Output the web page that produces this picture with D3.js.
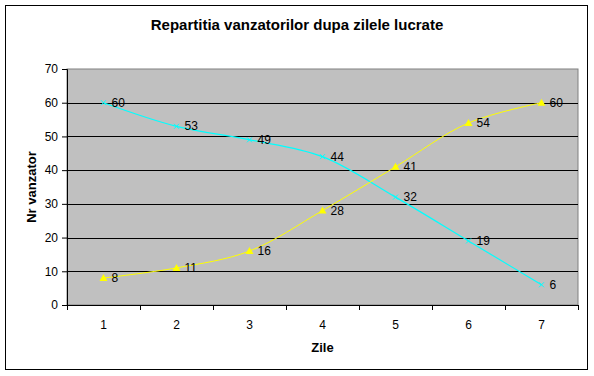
<!DOCTYPE html>
<html>
<head>
<meta charset="utf-8">
<script src="https://cdn.jsdelivr.net/npm/d3@7"></script>
<style>
  body { margin: 0; background: #fff; }
  svg { font-family: Arial, "Liberation Sans", sans-serif; }
</style>
</head>
<body>
<svg id="chart" width="594" height="376"></svg>
<script>
// data
var days = ["1", "2", "3", "4", "5", "6", "7"];
var seriesCyan = [60, 53, 49, 44, 32, 19, 6];
var seriesYellow = [8, 11, 16, 28, 41, 54, 60];
var yTicks = [0, 10, 20, 30, 40, 50, 60, 70];

var svg = d3.select("#chart"),
    margin = {top: 69, right: 16, bottom: 71, left: 67},
    width = 594 - margin.left - margin.right,
    height = 376 - margin.top - margin.bottom;

// outer frame
svg.append("rect")
    .attr("x", 5.5).attr("y", 5.5)
    .attr("width", 582).attr("height", 364)
    .attr("fill", "#fff").attr("stroke", "#000").attr("stroke-width", 1);

svg.append("text")
    .attr("x", 297).attr("y", 30)
    .attr("text-anchor", "middle")
    .attr("font-size", "15px").attr("font-weight", "bold")
    .text("Repartitia vanzatorilor dupa zilele lucrate");

var xScale = d3.scaleBand().domain(days).range([0, width]),
    yScale = d3.scaleLinear().domain([0, 70]).range([height, 0]),
    g = svg.append("g").attr("transform", `translate(${margin.left},${margin.top})`);

// plot area
g.append("rect")
    .attr("width", width).attr("height", height)
    .attr("fill", "#c0c0c0").attr("stroke", "#808080");

// gridlines
g.selectAll(".grid")
    .data(yTicks.filter(d => d > 0 && d < 70))
    .enter().append("line")
    .attr("x1", 0).attr("x2", width)
    .attr("y1", d => Math.round(yScale(d)) + 0.5)
    .attr("y2", d => Math.round(yScale(d)) + 0.5)
    .attr("stroke", "#000").attr("stroke-width", 1);

// y axis
var yAxis = g.append("g")
    .call(d3.axisLeft(yScale).tickValues(yTicks).tickSize(5).tickPadding(4));
yAxis.select(".domain").attr("stroke", "#000");
yAxis.selectAll("text").attr("font-size", "12px").attr("font-family", "Arial, 'Liberation Sans', sans-serif");

// x axis: ticks on band edges, labels at centres
var xg = g.append("g").attr("transform", `translate(0,${height})`);
xg.append("line").attr("x1", 0).attr("x2", width).attr("y1", 0.5).attr("y2", 0.5).attr("stroke", "#000");
var edges = days.map(d => xScale(d)).concat([width]);
xg.selectAll(".xtick")
    .data(edges)
    .enter().append("line")
    .attr("x1", d => Math.round(d) + 0.5).attr("x2", d => Math.round(d) + 0.5)
    .attr("y1", 0).attr("y2", 5)
    .attr("stroke", "#000");
xg.selectAll(".xlab")
    .data(days)
    .enter().append("text")
    .attr("x", d => xScale(d) + xScale.bandwidth() / 2)
    .attr("y", 24)
    .attr("text-anchor", "middle")
    .attr("font-size", "12px")
    .text(d => d);

svg.append("text")
    .attr("x", margin.left + width / 2).attr("y", 352)
    .attr("text-anchor", "middle")
    .attr("font-size", "13px").attr("font-weight", "bold")
    .text("Zile");

svg.append("text")
    .attr("transform", `translate(36,${margin.top + height / 2}) rotate(-90)`)
    .attr("text-anchor", "middle")
    .attr("font-size", "13px").attr("font-weight", "bold")
    .text("Nr vanzator");

var cx = d => xScale(d) + xScale.bandwidth() / 2;
var line = d3.line()
    .x((v, i) => cx(days[i]))
    .y(v => yScale(v))
    .curve(d3.curveCatmullRom.alpha(0.5));

// cyan series
g.append("path").datum(seriesCyan)
    .attr("d", line).attr("fill", "none")
    .attr("stroke", "#00ffff").attr("stroke-width", 1.2);
g.selectAll(".mx")
    .data(seriesCyan)
    .enter().append("path")
    .attr("d", (v, i) => {
        var x = cx(days[i]), y = yScale(v);
        return `M${x-2.5},${y-2.5}L${x+2.5},${y+2.5}M${x-2.5},${y+2.5}L${x+2.5},${y-2.5}`;
    })
    .attr("stroke", "#00ffff").attr("stroke-width", 1);

// yellow series
g.append("path").datum(seriesYellow)
    .attr("d", line).attr("fill", "none")
    .attr("stroke", "#ffff00").attr("stroke-width", 1);
g.selectAll(".tri")
    .data(seriesYellow)
    .enter().append("path")
    .attr("d", (v, i) => {
        var x = cx(days[i]), y = yScale(v);
        return `M${x},${y-4}L${x+4},${y+3}L${x-4},${y+3}Z`;
    })
    .attr("fill", "#ffff00");

// data labels
[seriesCyan, seriesYellow].forEach(s => {
    g.append("g").selectAll("text")
        .data(s)
        .enter().append("text")
        .attr("x", (v, i) => cx(days[i]) + 8)
        .attr("y", v => yScale(v) + 4)
        .attr("font-size", "12px")
        .attr("fill", "#000")
        .text(v => v);
});
</script>
</body>
</html>
